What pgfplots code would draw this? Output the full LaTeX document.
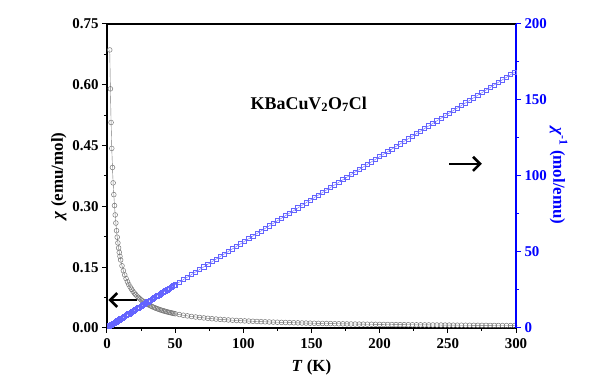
\documentclass[border=0pt]{standalone}
\usepackage{pgfplots}
\usepackage{pgfplotstable}
\pgfplotsset{compat=1.18}
\usepackage{fontspec}
\setmainfont{Liberation Serif}
\usetikzlibrary{arrows.meta}
\definecolor{sqblue}{RGB}{100,100,255}
\definecolor{cgray}{RGB}{120,120,120}

\pgfplotstableread{
T chi chiinv
2.0 0.686 1.458
2.5 0.590 1.695
3.0 0.507 1.972
3.5 0.443 2.257
4.0 0.396 2.525
4.5 0.358 2.793
5.0 0.329 3.040
5.5 0.302 3.311
6.0 0.279 3.584
6.5 0.259 3.861
7.0 0.2400 4.1667
7.5 0.2240 4.4643
8.0 0.2098 4.7664
8.5 0.1975 5.0633
9.0 0.1865 5.3619
9.5 0.1768 5.6561
10 0.1679 5.9551
11 0.1534 6.5169
12 0.1413 7.0787
13 0.1309 7.6404
14 0.1219 8.2022
15 0.1141 8.7640
16 0.1072 9.3258
17 0.1011 9.8876
18 0.0957 10.4494
19 0.0908 11.0112
20 0.0864 11.5730
21 0.0824 12.1348
22 0.0788 12.6966
23 0.0754 13.2584
24 0.0724 13.8202
25 0.0695 14.3820
26 0.0669 14.9438
27 0.0645 15.5056
28 0.0622 16.0674
29 0.0601 16.6292
30 0.0582 17.1910
31 0.0563 17.7528
32 0.0546 18.3146
33 0.0530 18.8764
34 0.0514 19.4382
35 0.0500 20.0000
36 0.0486 20.5618
37 0.0473 21.1236
38 0.0461 21.6854
39 0.0449 22.2472
40 0.0438 22.8090
41 0.0428 23.3708
42 0.0418 23.9326
43 0.0408 24.4944
44 0.0399 25.0562
45 0.0390 25.6180
46 0.0382 26.1798
47 0.0374 26.7416
48 0.0366 27.3034
49 0.0359 27.8652
50 0.0352 28.4270
53 0.03321 30.1124
56 0.03145 31.7978
59 0.02987 33.4831
62 0.02843 35.1685
65 0.02713 36.8539
68 0.02595 38.5393
71 0.02486 40.2247
74 0.02386 41.9101
77 0.02294 43.5955
80 0.02208 45.2809
83 0.02129 46.9663
86 0.02055 48.6517
89 0.01987 50.3371
92 0.01922 52.0225
95 0.01862 53.7079
98 0.01805 55.3933
101 0.01752 57.0787
104 0.01702 58.7640
107 0.01654 60.4494
110 0.01609 62.1348
113 0.01567 63.8202
116 0.01527 65.5056
119 0.01488 67.1910
122 0.01452 68.8764
125 0.01417 70.5618
128 0.01384 72.2472
131 0.01353 73.9326
134 0.01322 75.6180
137 0.01294 77.3034
140 0.01266 78.9888
143 0.01240 80.6742
146 0.01214 82.3596
149 0.01190 84.0449
152 0.01166 85.7303
155 0.01144 87.4157
158 0.01122 89.1011
161 0.01101 90.7865
164 0.01081 92.4719
167 0.01062 94.1573
170 0.01043 95.8427
173 0.01025 97.5281
176 0.01008 99.2135
179 0.00991 100.8989
182 0.00975 102.5843
185 0.00959 104.2697
188 0.00944 105.9551
191 0.00929 107.6404
194 0.00915 109.3258
197 0.00901 111.0112
200 0.00887 112.6966
203 0.00874 114.3820
206 0.00862 116.0674
209 0.00849 117.7528
212 0.00837 119.4382
215 0.00826 121.1236
218 0.00814 122.8090
221 0.00803 124.4944
224 0.00793 126.1798
227 0.00782 127.8652
230 0.00772 129.5506
233 0.00762 131.2360
236 0.00752 132.9213
239 0.00743 134.6067
242 0.00734 136.2921
245 0.00725 137.9775
248 0.00716 139.6629
251 0.00707 141.3483
254 0.00699 143.0337
257 0.00691 144.7191
260 0.00683 146.4045
263 0.00675 148.0899
266 0.00668 149.7753
269 0.00660 151.4607
272 0.00653 153.1461
275 0.00646 154.8315
278 0.00639 156.5169
281 0.00632 158.2022
284 0.00625 159.8876
287 0.00619 161.5730
290 0.00613 163.2584
293 0.00606 164.9438
296 0.00600 166.6292
299 0.00594 168.3146
}\datatable

\begin{document}
\begin{tikzpicture}
\pgfplotsset{
  common/.style={
    width=409bp, height=304bp, scale only axis,
    xmin=0, xmax=300,
    tick align=outside,
    major tick length=5bp, minor tick length=3bp,
    every tick/.style={line width=1bp},
    axis line style={line width=1.2bp},
    /pgf/number format/assume math mode=true,
    tick label style={font=\bfseries\fontsize{15}{15}\selectfont},
    label style={font=\bfseries\fontsize{17}{17}\selectfont},
  }
}
\begin{axis}[common, name=main,
  axis x line*=box, axis y line*=left,
  xtick pos=bottom, ytick pos=left,
  xtick={0,50,...,300}, minor x tick num=1,
  ymin=0, ymax=0.75,
  ytick={0,0.15,...,0.76}, minor y tick num=1,
  yticklabel style={/pgf/number format/.cd, fixed, fixed zerofill, precision=2},
  xticklabel style={yshift=-2bp},
  xlabel={\textit{T} (K)},
  ylabel={\textit{χ} (emu/mol)},
  ylabel style={yshift=-1bp},
  xlabel style={yshift=-4bp},
]
\addplot[color=cgray, line width=0.4bp, mark=o, mark size=2.4bp,
  mark options={draw=cgray, fill=white, line width=0.5bp}] table[x=T, y=chi] {\datatable};
\node[font=\bfseries\fontsize{18}{18}\selectfont] at (axis cs:148,0.552) {KBaCuV\textsubscript{2}O\textsubscript{7}Cl};
\draw[line width=2.6bp, -{Straight Barb[length=7bp,width=14bp]}] (axis cs:22,0.069) -- (axis cs:1,0.069);
\draw[line width=2.6bp, -{Straight Barb[length=7bp,width=14bp]}] (axis cs:251,0.405) -- (axis cs:275,0.405);
\end{axis}
\begin{axis}[common,
  axis y line*=right, axis x line=none,
  ymin=0, ymax=200,
  ytick={0,50,...,200}, minor y tick num=1,
  axis line style={blue, line width=1.2bp},
  every tick/.style={blue, line width=1bp},
  yticklabel style={blue},
  ylabel={\textit{χ}\textsuperscript{-1} (mol/emu)},
  ylabel style={blue, rotate=180},
  ylabel shift=-4bp,
]
\addplot[color=sqblue, line width=0.4bp, mark=square, mark size=2.1bp,
  mark options={draw=sqblue, line width=0.7bp}] table[x=T, y=chiinv] {\datatable};
\end{axis}
\pgfresetboundingbox
\path[use as bounding box] ([xshift=-107bp,yshift=-55bp]main.south west) rectangle ([xshift=81bp,yshift=24bp]main.north east);
\end{tikzpicture}
\end{document}
